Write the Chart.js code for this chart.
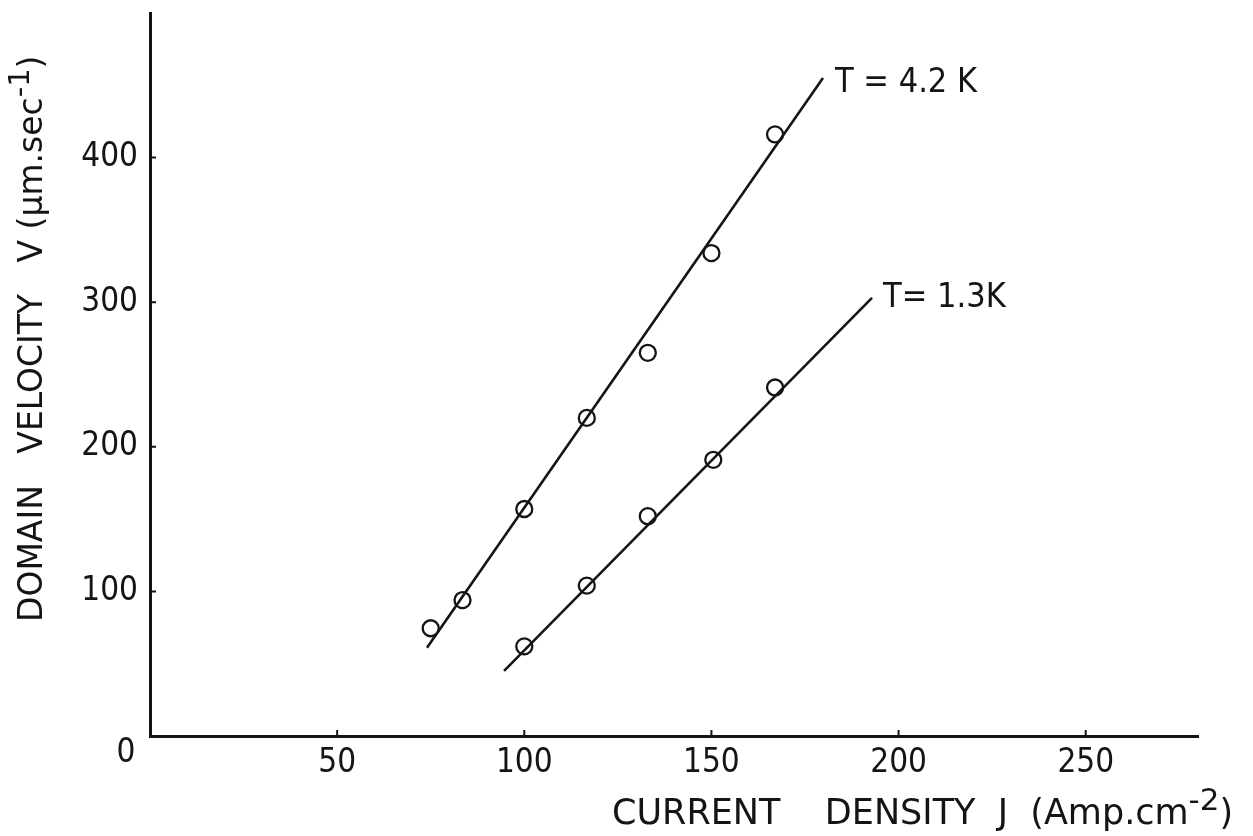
<!DOCTYPE html>
<html>
<head>
<meta charset="utf-8">
<script src="https://cdn.jsdelivr.net/npm/chart.js@4.4.1/dist/chart.umd.min.js"></script>
<style>
html, body { margin:0; padding:0; background:#fff; }
#chart { display:block; }
</style>
</head>
<body>
<canvas id="chart" width="1253" height="836"></canvas>
<script>
const FONT = '"DejaVu Sans Condensed", "DejaVu Sans", sans-serif'
const TITLE_FONT = '"DejaVu Sans", sans-serif'
const INK = '#141414'

// current density J (Amp.cm-2) and domain velocity V (um.sec-1)
const j42 = [75, 83.5, 100, 116.7, 133, 150, 167]
const v42 = [74.5, 94, 157, 220, 265, 334, 416]
const j13 = [100, 116.7, 133, 150.5, 167]
const v13 = [62, 104, 152, 191, 241]

// hand drawn straight lines, ends
const fitJ42 = [74, 179.8]
const fitV42 = [61, 455]
const fitJ13 = [94.6, 192.9]
const fitV13 = [45, 303]

const xTicks = [50, 100, 150, 200, 250]
const yTicks = [100, 200, 300, 400]
const lineLabels = ['T = 4.2 K', 'T= 1.3K']


function pts(xs, ys){
	return xs.map((x, i) => ({ x, y:ys[i] }))
}

// text with a raised part, e.g. ['Amp.cm', '-2', ')']
function richText(ctx, parts, x, y, size){
	let cx = x
	for(const p of parts){
		ctx.font = (p.sup ? Math.round(size*0.88) : size) + 'px ' + TITLE_FONT
		ctx.fillText(p.t, cx, p.sup ? y - size*0.4 : y)
		cx += ctx.measureText(p.t).width
	}
}

const paper = {
	id:'paper',
	afterDraw(chart){
		const { ctx, scales:{ x, y } } = chart
		ctx.save()
		ctx.strokeStyle = INK
		ctx.fillStyle = INK
		ctx.lineWidth = 2

		// short ticks pointing into the plot
		ctx.beginPath()
		for(const v of xTicks){
			const px = x.getPixelForValue(v)
			ctx.moveTo(px, y.bottom)
			ctx.lineTo(px, y.bottom - 6)
		}
		for(const v of yTicks){
			const py = y.getPixelForValue(v)
			ctx.moveTo(x.left, py)
			ctx.lineTo(x.left + 6, py)
		}
		ctx.stroke()

		// single 0 at the corner
		ctx.font = '33px ' + FONT
		ctx.textAlign = 'center'
		ctx.textBaseline = 'middle'
		ctx.fillText('0', x.getPixelForValue(0) - 24, y.getPixelForValue(0) + 17)

		// line labels at the upper ends
		ctx.font = '34px ' + FONT
		ctx.textAlign = 'left'
		ctx.fillText(lineLabels[0], x.getPixelForValue(fitJ42[1]) + 12, y.getPixelForValue(fitV42[1]) + 5)
		ctx.fillText(lineLabels[1], x.getPixelForValue(fitJ13[1]) + 11, y.getPixelForValue(fitV13[1]))

		// axis titles
		ctx.textBaseline = 'alphabetic'
		richText(ctx, [
			{ t:'CURRENT    DENSITY  J  (Amp.cm' },
			{ t:'-2', sup:true },
			{ t:')' }
		], 612, 824, 35)

		ctx.save()
		ctx.translate(42, 0)
		ctx.rotate(-Math.PI/2)
		richText(ctx, [
			{ t:'DOMAIN   VELOCITY   V (\u00b5m.sec' },
			{ t:'-1', sup:true },
			{ t:')' }
		], -622, 0, 33)
		ctx.restore()

		ctx.restore()
	}
}

const axisCommon = {
	type:'linear',
	grid:{ display:false, drawTicks:false },
	border:{ display:true, color:INK, width:3 },
	ticks:{ color:INK, font:{ family:FONT, size:33 }, autoSkip:false, maxRotation:0 }
}

function noEdgePadding(s){
	s.paddingTop = 0
	s.paddingBottom = 0
	s.paddingLeft = 0
	s.paddingRight = 0
}

new Chart(document.getElementById('chart'), {
	type:'scatter',
	data:{
		datasets:[
			{ data:pts(fitJ42, fitV42), showLine:true, borderColor:INK, borderWidth:2.6, pointRadius:0 },
			{ data:pts(fitJ13, fitV13), showLine:true, borderColor:INK, borderWidth:2.6, pointRadius:0 },
			{ data:pts(j42, v42), pointStyle:'circle', pointRadius:8, pointBorderWidth:2.3, pointBorderColor:INK, pointBackgroundColor:'rgba(0,0,0,0)' },
			{ data:pts(j13, v13), pointStyle:'circle', pointRadius:8, pointBorderWidth:2.3, pointBorderColor:INK, pointBackgroundColor:'rgba(0,0,0,0)' }
		]
	},
	options:{
		responsive:false,
		animation:false,
		devicePixelRatio:1,
		layout:{ padding:{ top:13, right:55, bottom:0, left:0 } },
		plugins:{ legend:{ display:false }, tooltip:{ enabled:false } },
		scales:{
			x:{
				...axisCommon,
				min:0, max:280,
				ticks:{ ...axisCommon.ticks, padding:8 },
				afterBuildTicks:s => { s.ticks = xTicks.map(value => ({ value })) },
				afterFit:s => { s.height = 100; noEdgePadding(s) }
			},
			y:{
				...axisCommon,
				min:0, max:500,
				ticks:{ ...axisCommon.ticks, padding:12 },
				afterBuildTicks:s => { s.ticks = yTicks.map(value => ({ value })) },
				afterFit:s => { s.width = 150; noEdgePadding(s) }
			}
		}
	},
	plugins:[paper]
})
</script>
</body>
</html>
